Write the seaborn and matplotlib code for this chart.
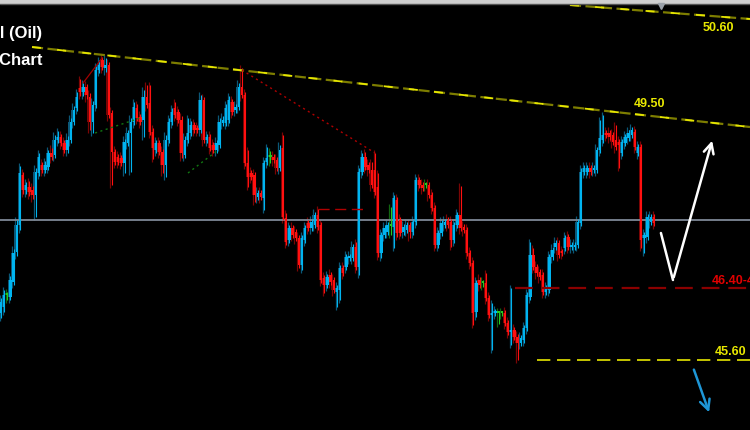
import numpy as np
import pandas as pd
import matplotlib
matplotlib.use("Agg")
import matplotlib.pyplot as plt
import seaborn as sns

# candle data (oil price), one value per bar
opens = [46.15, 46.21, 46.33, 46.31, 46.46, 46.76, 47.03, 47.53, 47.38, 47.41,
         47.38, 47.33, 47.55, 47.63, 47.58, 47.61, 47.75, 47.73, 47.88, 47.91,
         47.85, 47.78, 47.88, 48.06, 48.20, 48.40, 48.36, 48.41, 48.31, 48.06,
         48.23, 48.58, 48.68, 48.60, 48.63, 48.15, 47.76, 47.71, 47.70, 47.65,
         47.85, 47.95, 48.06, 48.20, 48.11, 48.08, 48.31, 48.25, 47.96, 47.78,
         47.85, 47.76, 47.63, 47.88, 48.06, 48.20, 48.16, 48.08, 47.73, 47.88,
         47.95, 48.03, 48.00, 47.98, 48.28, 47.88, 47.91, 47.83, 47.78, 47.83,
         48.05, 48.05, 48.08, 48.26, 48.18, 48.21, 48.41, 48.33, 47.65, 47.55,
         47.53, 47.31, 47.35, 47.30, 47.66, 47.71, 47.71, 47.68, 47.60, 47.80,
         47.10, 46.88, 47.00, 46.96, 46.90, 46.63, 46.88, 47.05, 47.00, 47.03,
         47.13, 47.03, 46.50, 46.43, 46.53, 46.48, 46.36, 46.38, 46.60, 46.61,
         46.70, 46.70, 46.81, 46.61, 47.56, 47.71, 47.63, 47.58, 47.58, 47.41,
         46.75, 46.93, 46.96, 47.02, 47.01, 47.28, 47.08, 46.96, 46.98, 47.03,
         46.96, 47.06, 47.48, 47.43, 47.43, 47.43, 47.33, 47.20, 46.83, 46.95,
         47.03, 47.08, 47.06, 46.88, 47.03, 47.13, 47.01, 46.98, 46.75, 46.65,
         46.16, 46.48, 46.45, 46.45, 46.30, 46.13, 46.15, 46.15, 46.15, 46.15,
         46.05, 45.96, 45.98, 45.91, 45.85, 45.88, 46.00, 46.31, 46.73, 46.61,
         46.56, 46.53, 46.36, 46.38, 46.71, 46.81, 46.85, 46.76, 46.80, 46.91,
         46.81, 46.81, 46.83, 47.05, 47.56, 47.56, 47.60, 47.58, 47.58, 47.78,
         47.88, 47.95, 47.95, 47.93, 47.88, 47.86, 47.75, 47.85, 47.90, 47.93,
         47.96, 47.75, 47.81, 46.90, 46.91, 47.06, 47.11]
closes = [46.26, 46.33, 46.33, 46.48, 46.75, 47.03, 47.55, 47.38, 47.43, 47.36,
          47.33, 47.56, 47.71, 47.58, 47.63, 47.75, 47.71, 47.88, 47.91, 47.85,
          47.78, 47.88, 48.06, 48.18, 48.31, 48.36, 48.41, 48.33, 48.06, 48.23,
          48.58, 48.63, 48.61, 48.63, 48.13, 47.76, 47.66, 47.66, 47.65, 47.86,
          47.95, 48.06, 48.21, 48.10, 48.06, 48.31, 48.23, 47.96, 47.80, 47.85,
          47.76, 47.63, 47.88, 48.06, 48.16, 48.13, 48.08, 47.75, 47.88, 47.95,
          48.03, 47.98, 47.98, 48.28, 47.88, 47.91, 47.80, 47.78, 47.85, 48.06,
          48.08, 48.20, 48.28, 48.16, 48.21, 48.41, 48.33, 47.65, 47.51, 47.51,
          47.33, 47.35, 47.31, 47.65, 47.70, 47.71, 47.68, 47.60, 47.78, 47.11,
          46.86, 47.00, 46.93, 46.90, 46.63, 46.90, 47.00, 47.00, 47.06, 47.13,
          47.01, 46.48, 46.43, 46.51, 46.46, 46.38, 46.40, 46.60, 46.55, 46.71,
          46.71, 46.81, 46.61, 47.56, 47.71, 47.61, 47.58, 47.43, 47.36, 46.75,
          46.93, 47.00, 47.03, 47.02, 47.30, 46.95, 46.95, 47.01, 47.03, 46.96,
          47.06, 47.48, 47.43, 47.40, 47.43, 47.33, 47.20, 46.83, 46.95, 47.05,
          47.06, 47.03, 46.88, 47.03, 47.13, 47.00, 46.98, 46.75, 46.65, 46.15,
          46.45, 46.43, 46.45, 46.30, 46.13, 46.15, 46.16, 46.15, 46.15, 46.05,
          45.96, 45.98, 45.91, 45.85, 45.90, 46.00, 46.33, 46.73, 46.61, 46.55,
          46.51, 46.36, 46.40, 46.71, 46.78, 46.85, 46.73, 46.75, 46.90, 46.81,
          46.83, 46.83, 47.06, 47.56, 47.60, 47.60, 47.56, 47.60, 47.78, 47.90,
          47.93, 47.93, 47.91, 47.86, 47.81, 47.83, 47.86, 47.91, 47.95, 47.98,
          47.81, 47.81, 46.88, 46.93, 47.11, 47.11, 47.05]
highs = [46.30, 46.38, 46.36, 46.52, 46.79, 47.08, 47.62, 47.56, 47.46, 47.47,
         47.42, 47.60, 47.75, 47.66, 47.67, 47.78, 47.80, 47.93, 47.97, 47.94,
         47.88, 47.92, 48.10, 48.22, 48.36, 48.49, 48.45, 48.44, 48.35, 48.27,
         48.62, 48.68, 48.71, 48.70, 48.66, 48.18, 47.79, 47.74, 47.73, 47.89,
         47.98, 48.10, 48.26, 48.24, 48.14, 48.38, 48.43, 48.43, 48.00, 47.88,
         47.88, 47.79, 47.93, 48.10, 48.20, 48.26, 48.19, 48.12, 47.92, 48.10,
         48.07, 48.06, 48.03, 48.33, 48.31, 47.94, 47.94, 47.86, 47.88, 48.10,
         48.12, 48.24, 48.32, 48.29, 48.24, 48.45, 48.60, 48.36, 47.78, 47.58,
         47.56, 47.38, 47.38, 47.68, 47.81, 47.77, 47.74, 47.71, 47.83, 47.93,
         47.15, 47.03, 47.03, 46.99, 46.93, 46.93, 47.03, 47.08, 47.09, 47.16,
         47.19, 47.06, 46.53, 46.54, 46.56, 46.51, 46.43, 46.63, 46.63, 46.74,
         46.74, 46.84, 46.86, 47.60, 47.75, 47.76, 47.66, 47.66, 47.75, 47.55,
         46.96, 47.03, 47.06, 47.21, 47.33, 47.31, 47.11, 47.04, 47.06, 47.06,
         47.09, 47.51, 47.51, 47.46, 47.46, 47.46, 47.36, 47.23, 46.98, 47.08,
         47.09, 47.11, 47.09, 47.06, 47.16, 47.42, 47.04, 47.01, 46.78, 46.68,
         46.48, 46.51, 46.48, 46.55, 46.33, 46.25, 46.19, 46.17, 46.17, 46.18,
         46.08, 46.40, 46.01, 45.94, 45.93, 46.03, 46.36, 46.86, 46.80, 46.64,
         46.59, 46.56, 46.43, 46.74, 46.81, 46.88, 46.88, 46.79, 46.93, 46.94,
         46.86, 46.86, 47.09, 47.60, 47.63, 47.63, 47.63, 47.63, 47.81, 48.08,
         48.13, 47.98, 47.98, 47.96, 48.03, 47.89, 47.89, 47.94, 47.98, 48.01,
         47.99, 47.84, 47.84, 46.96, 47.14, 47.14, 47.14]
lows = [46.10, 46.16, 46.28, 46.28, 46.43, 46.72, 46.98, 47.34, 47.34, 47.32,
        47.29, 47.11, 47.52, 47.55, 47.55, 47.58, 47.68, 47.70, 47.85, 47.82,
        47.75, 47.75, 47.85, 48.03, 48.17, 48.32, 48.32, 48.29, 47.98, 47.95,
        48.20, 48.55, 48.58, 48.56, 48.10, 47.43, 47.63, 47.63, 47.62, 47.55,
        47.82, 47.56, 48.03, 48.07, 48.03, 47.91, 48.20, 47.93, 47.69, 47.75,
        47.73, 47.55, 47.51, 47.85, 48.03, 48.10, 48.05, 47.70, 47.70, 47.85,
        47.92, 47.95, 47.95, 47.95, 47.85, 47.85, 47.77, 47.75, 47.75, 47.80,
        48.02, 48.02, 48.05, 48.13, 48.15, 48.18, 48.30, 47.62, 47.41, 47.48,
        47.26, 47.28, 47.28, 47.18, 47.63, 47.65, 47.65, 47.57, 47.57, 47.08,
        46.83, 46.85, 46.90, 46.87, 46.60, 46.58, 46.85, 46.97, 46.97, 47.00,
        46.98, 46.45, 46.35, 46.40, 46.43, 46.35, 46.21, 46.28, 46.52, 46.58,
        46.67, 46.67, 46.58, 46.53, 47.53, 47.58, 47.55, 47.40, 47.33, 46.71,
        46.70, 46.90, 46.93, 46.93, 46.80, 46.91, 46.92, 46.93, 46.95, 46.90,
        46.93, 47.03, 47.40, 47.37, 47.40, 47.30, 47.17, 46.80, 46.80, 46.92,
        47.00, 47.00, 46.81, 46.85, 47.00, 46.97, 46.95, 46.72, 46.62, 46.03,
        46.11, 46.40, 46.41, 46.27, 46.10, 45.78, 46.12, 46.04, 46.12, 46.02,
        45.93, 45.83, 45.88, 45.68, 45.82, 45.85, 45.97, 46.28, 46.58, 46.52,
        46.48, 46.33, 46.33, 46.35, 46.68, 46.78, 46.70, 46.72, 46.77, 46.78,
        46.78, 46.78, 46.80, 47.02, 47.53, 47.53, 47.53, 47.55, 47.55, 47.75,
        47.85, 47.90, 47.88, 47.83, 47.78, 47.60, 47.72, 47.82, 47.87, 47.90,
        47.78, 47.72, 46.80, 46.75, 46.88, 47.03, 47.02]

# drawn levels / annotations (bar index, price)
mid_level = 47.08
upper_trend_x, upper_trend_y = [179.5, 236.3], [49.23, 49.09]
main_trend_x, main_trend_y = [9.8, 236.3], [48.81, 48.01]
red_dot_x, red_dot_y = [76.0, 118.0], [48.58, 47.75]
red_thin_x, red_thin_y = [25.9, 31.9], [48.45, 48.70]
green_dot_a = ([29.7, 43.9], [47.95, 48.10])
green_dot_b = ([59.0, 68.5], [47.55, 47.78])
red_box_x, red_box_y = [100.0, 114.2], 47.19
support_x, support_y = [162.2, 240.0], 46.40
low_level_x, low_level_y = [169.1, 240.0], 45.68
white_path_x, white_path_y = [208.2, 212.0, 224.6], [46.95, 46.48, 47.90]
blue_arrow_x, blue_arrow_y = [218.3, 223.7], [45.61, 45.13]

BLUE, RED, GREEN = "#00b4f0", "#ff1010", "#22cc22"
DBLUE, DRED, DGREEN = "#0b5878", "#7a0505", "#116611"

df = pd.DataFrame({"open": opens, "close": closes, "high": highs, "low": lows})
df["x"] = np.arange(len(df))
df["col"] = np.where(df.close > df.open, BLUE, np.where(df.close < df.open, RED, GREEN))
df["dcol"] = np.where(df.close > df.open, DBLUE, np.where(df.close < df.open, DRED, DGREEN))
df["bottom"] = df[["open", "close"]].min(axis=1)
df["height"] = (df.close - df.open).abs().clip(lower=0.015)

sns.set_theme(style="dark", rc={"axes.facecolor": "black", "figure.facecolor": "black"})
plt.rcParams["font.family"] = ["Liberation Sans", "DejaVu Sans"]

fig = plt.figure(figsize=(7.5, 4.3), dpi=100)
ax = fig.add_axes([0, 0, 1, 1])
ax.set_facecolor("black")

# ghost layer
ax.vlines(df.x - 0.45, df.low - 0.03, df.high + 0.03, colors=df.dcol, linewidth=0.9, zorder=1)
ax.bar(df.x - 0.45, df.height, bottom=df.bottom, width=0.6, color=df.dcol, linewidth=0, zorder=1)

ax.axhline(mid_level, color="#7e8896", linewidth=1.3, zorder=2)

# main candles
ax.vlines(df.x, df.low, df.high, colors=df.col, linewidth=0.8, zorder=3)
ax.bar(df.x, df.height, bottom=df.bottom, width=0.75, color=df.col, linewidth=0, zorder=3)

# trendlines
for xs, ys in [(upper_trend_x, upper_trend_y), (main_trend_x, main_trend_y)]:
    ax.plot(xs, ys, color="#7d7d00", linewidth=1.6, dashes=(5, 2), zorder=4)
    ax.plot(xs, ys, color="#e6e600", linewidth=1.3, dashes=(5, 9), zorder=4)
ax.plot(red_dot_x, red_dot_y, color="#b00000", linewidth=1.0, dashes=(1.5, 2.5), zorder=4)
ax.plot(red_thin_x, red_thin_y, color="#a00000", linewidth=0.9, zorder=4)
for xs, ys in [green_dot_a, green_dot_b]:
    ax.plot(xs, ys, color="#117711", linewidth=1.0, dashes=(1.5, 2.5), zorder=4)
ax.hlines(red_box_y, *red_box_x, color="#b00000", linewidth=1.0, linestyles=(0, (8, 4)), zorder=4)
ax.hlines(support_y, *support_x, color="#8b0000", linewidth=1.6, linestyles=(0, (8, 4)), zorder=4)
ax.hlines(low_level_y, *low_level_x, color="#e6e600", linewidth=1.2, linestyles=(0, (8, 4)), zorder=4)

# arrows
ax.plot(white_path_x[:2], white_path_y[:2], color="white", linewidth=1.8, solid_capstyle="round", zorder=5)
ax.annotate("", xy=(white_path_x[2], white_path_y[2]), xytext=(white_path_x[1], white_path_y[1]),
            arrowprops=dict(arrowstyle="->,head_length=0.6,head_width=0.3", color="white", lw=1.8), zorder=5)
ax.annotate("", xy=(blue_arrow_x[1], blue_arrow_y[1]), xytext=(blue_arrow_x[0], blue_arrow_y[0]),
            arrowprops=dict(arrowstyle="->,head_length=0.6,head_width=0.3", color="#1e96d6", lw=1.8), zorder=5)

# level labels
lab = dict(fontsize=9, fontweight="bold", va="center", zorder=6)
ax.text(226.2, 49.00, "50.60", color="#e8e800", ha="center", **lab)
ax.text(204.7, 48.24, "49.50", color="#e8e800", ha="center", **lab)
ax.text(224.3, 46.47, "46.40-46.20", color="#e00000", ha="left", **lab)
ax.text(230.3, 45.76, "45.60", color="#e8e800", ha="center", **lab)

# clipped title
ax.text(0.056, 0.923, "Crude Oil (Oil)", transform=ax.transAxes, color="white",
        fontsize=12, fontweight="bold", ha="right", va="center", zorder=6)
ax.text(0.057, 0.860, "Daily Chart", transform=ax.transAxes, color="white",
        fontsize=12, fontweight="bold", ha="right", va="center", zorder=6)

# top strip of the terminal window
ax.axhspan(49.25, 49.30, color="#cfcfcf", zorder=7)
ax.axhline(49.245, color="#555555", linewidth=1.0, zorder=7)
ax.plot([208.3], [49.225], marker="v", color="#9aa0a8", markersize=5, zorder=7)

ax.set_xlim(-0.3, 236.3)
ax.set_ylim(44.98, 49.28)
ax.set_xticks([])
ax.set_yticks([])
for s in ax.spines.values():
    s.set_visible(False)

fig.savefig("out.png", dpi=100, facecolor="black")
